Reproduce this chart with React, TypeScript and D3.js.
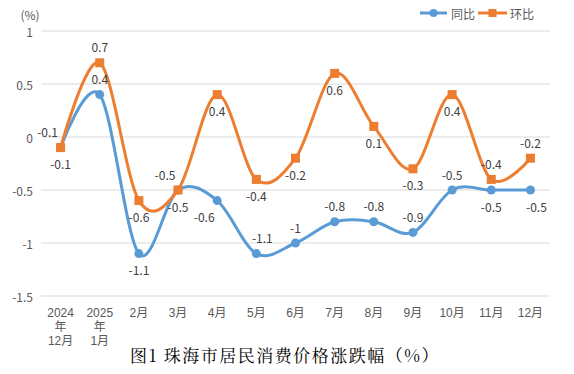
import React from "react";
import * as d3 from "d3";

// 数据
const categories = [
	"2024年12月", "2025年1月", "2月", "3月", "4月", "5月", "6月",
	"7月", "8月", "9月", "10月", "11月", "12月",
];
const tickLines = [
	["2024", "年", "12月"], ["2025", "年", "1月"], ["2月"], ["3月"], ["4月"], ["5月"], ["6月"],
	["7月"], ["8月"], ["9月"], ["10月"], ["11月"], ["12月"],
];
const yoy = [-0.1, 0.4, -1.1, -0.5, -0.6, -1.1, -1, -0.8, -0.8, -0.9, -0.5, -0.5, -0.5];
const mom = [-0.1, 0.7, -0.6, -0.5, 0.4, -0.4, -0.2, 0.6, 0.1, -0.3, 0.4, -0.4, -0.2];
const yTicks = [1, 0.5, 0, -0.5, -1, -1.5];

// 标签位置 (Excel 默认的数据标签位置)
const yoyLabelPos = ["b", "t", "b", "b", "bl", "tr", "t", "t", "t", "t", "t", "b", "br"];
const momLabelPos = ["tl", "t", "b", "tl", "b", "b", "b", "b", "b", "b", "b", "t", "t"];

const W = 574;
const H = 374;
const BLUE = "#5B9BD5";
const ORANGE = "#ED7D31";
const FONT = "'Noto Sans CJK SC', 'Noto Sans', sans-serif";
const TICK_FONT = "'Liberation Sans', 'Noto Sans CJK SC', sans-serif";

export default function App() {
	const x = d3.scaleBand().domain(categories).range([41, 550]);
	const cx = (c: string) => (x(c) || 0) + x.bandwidth() / 2;
	const y = d3.scaleLinear().domain([-1.5, 1]).range([296, 31]);

	const line = d3
		.line<number>()
		.x((_, i) => cx(categories[i]))
		.y((d) => y(d))
		.curve(d3.curveCardinal.tension(0));

	const labelOffset = (p: string) => {
		let dx = 0;
		let dy = 0;
		if (p.includes("t")) dy = -16;
		if (p.includes("b")) dy = 16;
		if (p.includes("l")) dx = -13;
		if (p.includes("r")) dx = 6;
		return [dx, dy];
	};

	const labels = (vals: number[], pos: string[], key: string) =>
		vals.map((v, i) => {
			const [dx, dy] = labelOffset(pos[i]);
			return (
				<text
					key={key + i}
					x={cx(categories[i]) + dx}
					y={y(v) + dy}
					textAnchor="middle"
					dominantBaseline="central"
					fontSize={12}
					fill="#404040"
					fontFamily={FONT}
				>
					{v}
				</text>
			);
		});

	return (
		<svg
			width={W}
			height={H}
			style={{ position: "absolute", left: 0, top: 0, background: "#fff" }}
		>
			{/* 网格线 */}
			{yTicks.map((t) => (
				<g key={t}>
					<line x1={41} x2={550} y1={y(t)} y2={y(t)} stroke="#d9d9d9" strokeWidth={1} />
					<text
						x={33}
						y={y(t)}
						textAnchor="end"
						dominantBaseline="central"
						fontSize={12}
						fill="#595959"
						fontFamily={FONT}
					>
						{t}
					</text>
				</g>
			))}
			<text x={30} y={14} textAnchor="middle" dominantBaseline="central" fontSize={12} fill="#595959" fontFamily={FONT}>
				(%)
			</text>

			{/* X 轴标签 */}
			{tickLines.map((ls, i) =>
				ls.map((l, j) => (
					<text
						key={i + "-" + j}
						x={cx(categories[i])}
						y={317 + j * 14}
						textAnchor="middle"
						fontSize={12}
						fill="#595959"
						fontFamily={TICK_FONT}
					>
						{l}
					</text>
				))
			)}

			{/* 折线 */}
			<path d={line(yoy) || ""} fill="none" stroke={BLUE} strokeWidth={3} strokeLinecap="round" />
			<path d={line(mom) || ""} fill="none" stroke={ORANGE} strokeWidth={3} strokeLinecap="round" />
			{yoy.map((v, i) => (
				<circle key={"c" + i} cx={cx(categories[i])} cy={y(v)} r={4.5} fill={BLUE} />
			))}
			{mom.map((v, i) => (
				<rect key={"r" + i} x={cx(categories[i]) - 4.5} y={y(v) - 4.5} width={9} height={9} fill={ORANGE} />
			))}

			{labels(yoy, yoyLabelPos, "y")}
			{labels(mom, momLabelPos, "m")}

			{/* 图例 */}
			<line x1={420} x2={447} y1={13} y2={13} stroke={BLUE} strokeWidth={3} />
			<circle cx={433.5} cy={13} r={4} fill={BLUE} />
			<text x={451} y={13} dominantBaseline="central" fontSize={12} fill="#595959" fontFamily={FONT}>
				同比
			</text>
			<line x1={478} x2={507} y1={13} y2={13} stroke={ORANGE} strokeWidth={3} />
			<rect x={488.5} y={9} width={8} height={8} fill={ORANGE} />
			<text x={510} y={13} dominantBaseline="central" fontSize={12} fill="#595959" fontFamily={FONT}>
				环比
			</text>

			{/* 标题 */}
			<text
				x={285}
				y={362}
				textAnchor="middle"
				fontSize={17}
				fill="#000"
				letterSpacing={1.5}
				fontFamily="'Noto Serif CJK SC', 'DejaVu Serif', serif"
			>
				图1 珠海市居民消费价格涨跌幅（%）
			</text>
		</svg>
	);
}
